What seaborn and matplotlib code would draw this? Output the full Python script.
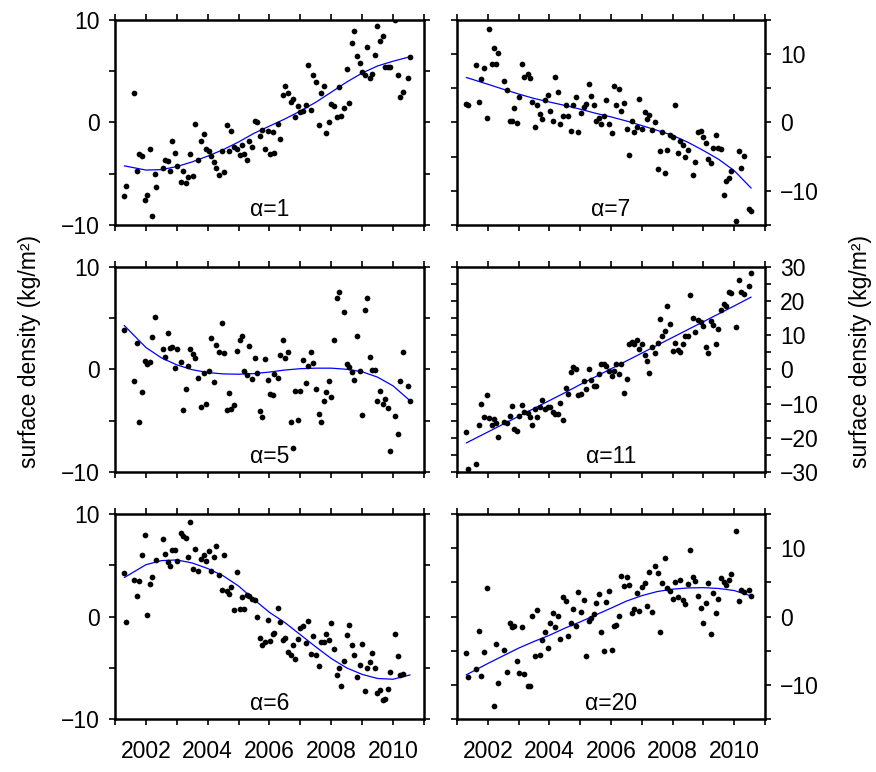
import numpy as np
import pandas as pd
import matplotlib
matplotlib.use("Agg")
import matplotlib.pyplot as plt
import seaborn as sns

# ---------------- data (decimal years, surface density kg/m^2) ----------------
T = [2001.30, 2001.35, 2001.61, 2001.70, 2001.78, 2001.87, 2001.96, 2002.03, 2002.13, 2002.20,
     2002.28, 2002.34, 2002.54, 2002.61, 2002.71, 2002.78, 2002.86, 2002.95, 2003.01, 2003.12,
     2003.19, 2003.29, 2003.37, 2003.43, 2003.53, 2003.60, 2003.69, 2003.77, 2003.87, 2003.95,
     2004.03, 2004.11, 2004.19, 2004.28, 2004.35, 2004.45, 2004.53, 2004.61, 2004.69, 2004.77,
     2004.85, 2004.94, 2005.03, 2005.11, 2005.18, 2005.27, 2005.35, 2005.44, 2005.52, 2005.60,
     2005.69, 2005.76, 2005.85, 2005.94, 2006.02, 2006.10, 2006.16, 2006.26, 2006.33, 2006.43,
     2006.51, 2006.59, 2006.68, 2006.76, 2006.84, 2006.92, 2007.00, 2007.09, 2007.17, 2007.25,
     2007.34, 2007.42, 2007.52, 2007.59, 2007.67, 2007.75, 2007.83, 2007.92, 2008.00, 2008.08,
     2008.17, 2008.24, 2008.33, 2008.41, 2008.51, 2008.58, 2008.66, 2008.74, 2008.82, 2008.92,
     2009.00, 2009.09, 2009.16, 2009.24, 2009.31, 2009.40, 2009.49, 2009.57, 2009.67, 2009.74,
     2009.82, 2009.90, 2009.99, 2010.06, 2010.15, 2010.23, 2010.32, 2010.40, 2010.48, 2010.55]

N = None
alpha1 = [-7.13, -6.22, 2.90, -4.69, -3.09, -3.29, -7.59, -7.07, -2.61, -9.12,
          -5.05, -6.32, -4.43, -3.62, -3.75, -4.69, -1.76, -2.96, -4.20, -5.77,
          -4.76, -5.90, -5.28, -3.03, -5.18, -0.10, -3.62, -1.76, -1.11, -2.54,
          -2.77, -3.29, -3.84, -4.43, -5.11, -2.74, -4.85, -0.23, -2.77, -0.81,
          -2.41, -2.61, -3.13, -2.18, -3.06, -3.68, -1.82, -2.38, 0.10, 0.03,
          -1.30, -0.72, -2.61, -0.81, -3.03, -0.94, -2.93, -0.10, -1.63, 2.67,
          3.52, 2.83, 1.99, 2.31, 0.52, 1.60, 1.07, 1.17, 1.66, 5.60,
          1.24, 4.63, 3.94, -0.26, 2.90, 3.52, -1.04, 0.07, 1.82, 1.63,
          0.52, 3.42, 0.68, 1.43, 5.18, 1.92, 7.75, 8.96, 6.51, 5.77,
          4.92, 4.63, 7.36, 4.30, 4.69, 6.58, 9.41, 7.98, 8.44, 5.44,
          5.44, 5.44, N, 10.0, 4.63, 2.51, 3.00, N, 4.33, 6.42]

alpha7 = [2.68, 2.63, 8.39, 2.98, 6.39, 8.00, 0.59, 13.61, 8.59, 10.88,
          8.63, 10.10, 6.10, 4.78, 0.20, 0.24, 2.15, -0.05, 3.76, 8.63,
          6.73, 7.12, 6.49, 2.93, -0.59, 2.49, 1.22, 0.44, 3.27, 4.00,
          1.71, 0.20, 6.63, 4.44, -0.20, 1.02, 2.49, 1.02, -1.27, 2.59,
          3.66, -1.37, 1.37, 2.24, 2.73, 5.61, 3.85, 2.63, 0.29, 0.68,
          -0.15, 1.02, 3.27, -0.15, -1.51, 5.37, 2.63, 4.83, 1.71, 2.88,
          -0.93, -4.73, 0.15, -1.41, -0.73, 3.37, -0.93, 1.51, 0.49, 1.12,
          -1.12, 0.10, -6.78, -4.24, -1.37, -7.46, -4.05, -1.85, -2.05, 2.54,
          -4.49, -2.73, -3.27, -5.12, -4.00, N, -7.71, -5.71, -1.32, -1.27,
          -2.15, -3.07, -5.27, -5.95, -3.76, -1.76, -3.66, -3.90, -10.54, -8.54,
          -8.10, -7.07, N, -14.44, -4.24, -6.73, -4.83, N, -12.59, -12.88]

alpha5 = [3.90, N, -1.14, 2.60, -5.10, -2.24, 0.81, 0.49, 0.78, 3.21,
          5.10, N, 1.98, 1.23, 3.60, 2.05, 2.21, 0.10, 1.98, 0.78,
          -3.99, -1.92, 0.32, 1.98, 1.53, 1.14, -0.84, -3.64, -0.36, -3.38,
          -0.16, 3.08, -1.23, 2.40, 1.69, 4.58, 1.59, -3.93, -2.31, -3.83,
          -3.44, 1.85, 2.92, 3.31, -0.13, -0.58, 2.31, -0.91, 1.14, -0.36,
          -4.06, -4.68, 1.01, -1.04, -2.37, -2.47, -0.45, -0.84, 1.43, 2.92,
          1.17, 1.75, -5.16, -7.66, -2.14, -4.90, -2.14, 0.97, -1.33, 0.32,
          1.69, 0.68, -1.88, -4.35, -5.13, -3.05, -2.21, -1.17, -2.69, 2.89,
          6.95, 7.56, N, 5.65, 0.52, 0.29, -0.29, -1.07, 3.28, -0.16,
          -4.48, 5.81, 7.01, 1.23, -0.03, -0.03, -3.05, -2.14, -3.34, -2.89,
          -3.77, -7.95, N, -4.58, -6.27, -1.14, 1.66, N, -1.59, -3.12]

alpha11 = [-18.4, -29.1, -27.6, -16.2, -10.2, -13.9, -7.5, -14.2, -16.3, -14.5,
           -15.8, -19.7, -15.3, -15.6, -13.6, -10.8, -17.5, -17.9, -13.6, -10.5,
           -12.5, -12.7, -13.8, -16.1, -11.6, -14.0, -11.1, -9.0, -11.6, -10.9,
           -10.9, -12.3, -13.0, -13.0, -9.7, -14.8, -5.5, -7.2, -0.7, 0.6,
           0.1, -7.6, -7.2, -3.3, -5.8, 0.0, -3.0, -4.9, -4.9, -1.3,
           1.7, 1.6, 0.9, -0.3, -1.9, -0.3, 1.5, -1.3, 1.7, -6.9,
           -2.9, 7.5, 8.0, 7.5, 8.5, 6.0, 7.4, 4.1, 2.6, -1.0,
           6.7, 4.8, 7.9, 14.8, 9.7, 11.2, 18.7, 13.4, 5.5, 7.9,
           5.8, 5.1, 7.6, 9.7, 9.8, 21.7, 15.2, 10.9, 14.6, 13.9,
           12.6, 6.7, 4.8, 14.2, 13.1, 7.5, 11.9, 17.5, 19.1, 18.5,
           22.6, 22.5, N, 12.3, 26.3, 22.8, 22.2, N, 24.5, 28.2]

alpha6 = [4.29, -0.58, 3.60, 2.01, 3.47, 5.97, 7.92, 0.19, 3.15, 3.83,
          N, 5.52, 7.60, 6.10, 5.36, 4.94, 6.49, 6.49, 5.45, 8.18,
          7.86, 7.69, 5.78, 9.25, 4.68, 6.56, 4.48, 5.58, 5.97, 5.45,
          6.43, 4.42, 5.84, 6.88, 4.09, 2.60, 5.97, 2.47, 2.24, 2.86,
          0.62, 4.35, 0.71, 1.95, 0.78, 2.08, 2.01, 1.69, 1.62, -0.03,
          -2.14, -2.79, -2.47, -0.39, -2.40, -1.75, -1.62, 0.81, -0.58, -2.31,
          -2.05, -3.51, -3.77, -2.79, -4.16, -2.21, -1.14, -0.91, -2.63, -0.42,
          -3.70, -1.88, -3.77, -4.87, -2.53, -2.44, -1.75, -2.27, -0.68, -3.21,
          -5.71, -5.06, -6.75, -4.35, -1.82, -0.81, -2.79, -3.73, -5.94, -4.71,
          -2.66, -7.31, -5.03, -4.45, -3.60, -5.06, -7.44, -7.18, -8.12, -8.02,
          -7.08, -5.39, N, -1.72, -3.86, -5.75, -5.62, N, N, N]

alpha20 = [-5.37, -8.83, -7.66, -2.05, -8.68, -5.22, 4.15, N, N, -13.07,
           -4.00, -9.76, -4.83, -8.10, -0.93, -1.51, -1.46, -6.49, -8.24, -1.51,
           -8.44, -10.10, -10.10, 0.05, -5.85, 0.88, -5.61, -3.41, -2.29, -4.59,
           -1.02, 0.54, -1.51, 0.05, -3.22, 2.88, 2.20, -2.83, -0.88, 1.17,
           -1.37, 3.56, 0.73, 2.39, -5.85, -0.63, -0.15, 0.34, 1.95, 3.32,
           -2.34, -5.12, 2.10, 3.76, -4.88, -1.41, -1.27, 0.05, 5.95, 4.49,
           5.85, 4.63, 0.49, 1.17, 3.37, 0.83, 4.34, 4.93, 1.51, 6.44,
           0.73, 7.37, 6.34, -2.20, 4.93, 8.63, 4.20, 3.71, 2.49, 5.07,
           2.83, 5.27, 2.39, 1.85, 4.73, 9.66, 5.80, 5.17, 3.02, 1.27,
           -0.88, 2.00, 4.83, -2.49, 3.37, 0.54, 2.59, 5.66, 4.98, 4.63,
           5.27, 6.15, N, 12.44, 2.20, 3.90, 3.61, N, 3.90, 3.02]

# fitted (blue) curves
CT = [2001.3, 2002.0, 2002.5, 2003.0, 2003.5, 2004.0, 2004.5, 2005.0, 2005.5, 2006.0,
      2006.5, 2007.0, 2007.5, 2008.0, 2008.5, 2009.0, 2009.5, 2010.0, 2010.55]
fit1 = [-4.23, -4.64, -4.60, -4.30, -3.84, -3.28, -2.65, -1.90, -1.05, -0.35,
        0.35, 1.12, 1.98, 2.96, 3.95, 4.83, 5.52, 5.98, 6.42]
fit7 = [6.59, 5.60, 4.87, 4.17, 3.52, 3.00, 2.50, 1.95, 1.35, 0.82,
        0.22, -0.45, -1.15, -1.88, -2.90, -4.10, -5.40, -7.05, -9.60]
fit5 = [4.29, 2.15, 1.14, 0.45, -0.02, -0.30, -0.43, -0.46, -0.40, -0.25,
        -0.05, 0.08, 0.13, 0.13, 0.02, -0.22, -0.75, -1.60, -3.05]
fit11 = [-21.5, -18.3, -16.0, -13.7, -11.4, -9.1, -6.8, -4.4, -2.1, 0.2,
         2.5, 4.8, 7.1, 9.4, 11.7, 14.0, 16.3, 18.6, 21.2]
fit6 = [3.80, 5.05, 5.45, 5.52, 5.22, 4.68, 3.97, 2.97, 1.65, 0.40,
        -0.60, -1.78, -2.97, -4.10, -5.02, -5.65, -6.05, -6.12, -5.70]
fit20 = [-8.54, -6.88, -5.75, -4.63, -3.65, -2.75, -1.71, -0.79, 0.22, 1.22,
         2.25, 3.05, 3.65, 4.00, 4.18, 4.22, 4.10, 3.80, 3.00]

labels = ["α=1", "α=7", "α=5", "α=11", "α=6", "α=20"]
series = [alpha1, alpha7, alpha5, alpha11, alpha6, alpha20]
fits = [fit1, fit7, fit5, fit11, fit6, fit20]
ylims = [(-10, 10), (-15, 15), (-10, 10), (-30, 30), (-10, 10), (-15, 15)]
year_labels = [2002, 2004, 2006, 2008, 2010]
ylabel_text = "surface density (kg/m²)"

# ---------------- style ----------------
sns.set_style("ticks")
plt.rcParams["font.family"] = ["Liberation Sans", "DejaVu Sans"]
plt.rcParams["axes.unicode_minus"] = True
plt.rcParams["text.color"] = "black"
plt.rcParams["xtick.color"] = "black"
plt.rcParams["ytick.color"] = "black"

W, H = 876, 772
fig = plt.figure(figsize=(W / 100, H / 100), dpi=100)

cols = [(115, 424), (457, 765)]
rows = [(20, 225), (267, 472), (514, 719)]

FS = 16.5
for k in range(6):
    r, c = divmod(k, 2)
    x0, x1 = cols[c]
    y0, y1 = rows[r]
    ax = fig.add_axes([x0 / W, 1 - y1 / H, (x1 - x0) / W, (y1 - y0) / H])
    df = pd.DataFrame({"t": T, "v": series[k]}).dropna()
    cf = pd.DataFrame({"t": CT, "v": fits[k]})
    sns.lineplot(data=cf, x="t", y="v", ax=ax, color="#0000ff", lw=0.9,
                 zorder=2, sort=True)
    sns.scatterplot(data=df, x="t", y="v", ax=ax, color="black", s=17,
                    linewidth=0, zorder=3)
    ax.set_xlim(2001, 2011)
    lo, hi = ylims[k]
    ax.set_ylim(lo, hi)
    ax.set_xlabel("")
    ax.set_ylabel("")

    xt = list(range(2001, 2012))
    ax.set_xticks(xt)
    if r == 2:
        ax.set_xticklabels([str(y) if y in year_labels else "" for y in xt])
    else:
        ax.set_xticklabels([""] * len(xt))
    yt = list(range(lo, hi + 1, 5))
    ax.set_yticks(yt)
    ax.set_yticklabels([(str(v).replace("-", "\u2212") if v % 10 == 0 else "") for v in yt])

    ax.tick_params(axis="x", direction="out", top=True, bottom=True, length=4,
                   width=1.2, labelsize=FS, pad=11, colors="black")
    ax.tick_params(axis="y", direction="out", left=True, right=True, length=4,
                   width=1.2, labelsize=FS, pad=7, colors="black",
                   labelleft=(c == 0), labelright=(c == 1))
    for sp in ax.spines.values():
        sp.set_visible(True)
        sp.set_linewidth(1.8)
        sp.set_color("black")
    ax.text(0.5, 0.045, labels[k], transform=ax.transAxes, ha="center",
            va="baseline", fontsize=FS, color="black", zorder=4)

fig.text(30 / W, 1 - 351 / H, ylabel_text, rotation=90, ha="center", va="center",
         fontsize=FS, color="black")
fig.text(860 / W, 1 - 351 / H, ylabel_text, rotation=90, ha="center", va="center",
         fontsize=FS, color="black")

fig.savefig("out.png", dpi=100, facecolor="white")
